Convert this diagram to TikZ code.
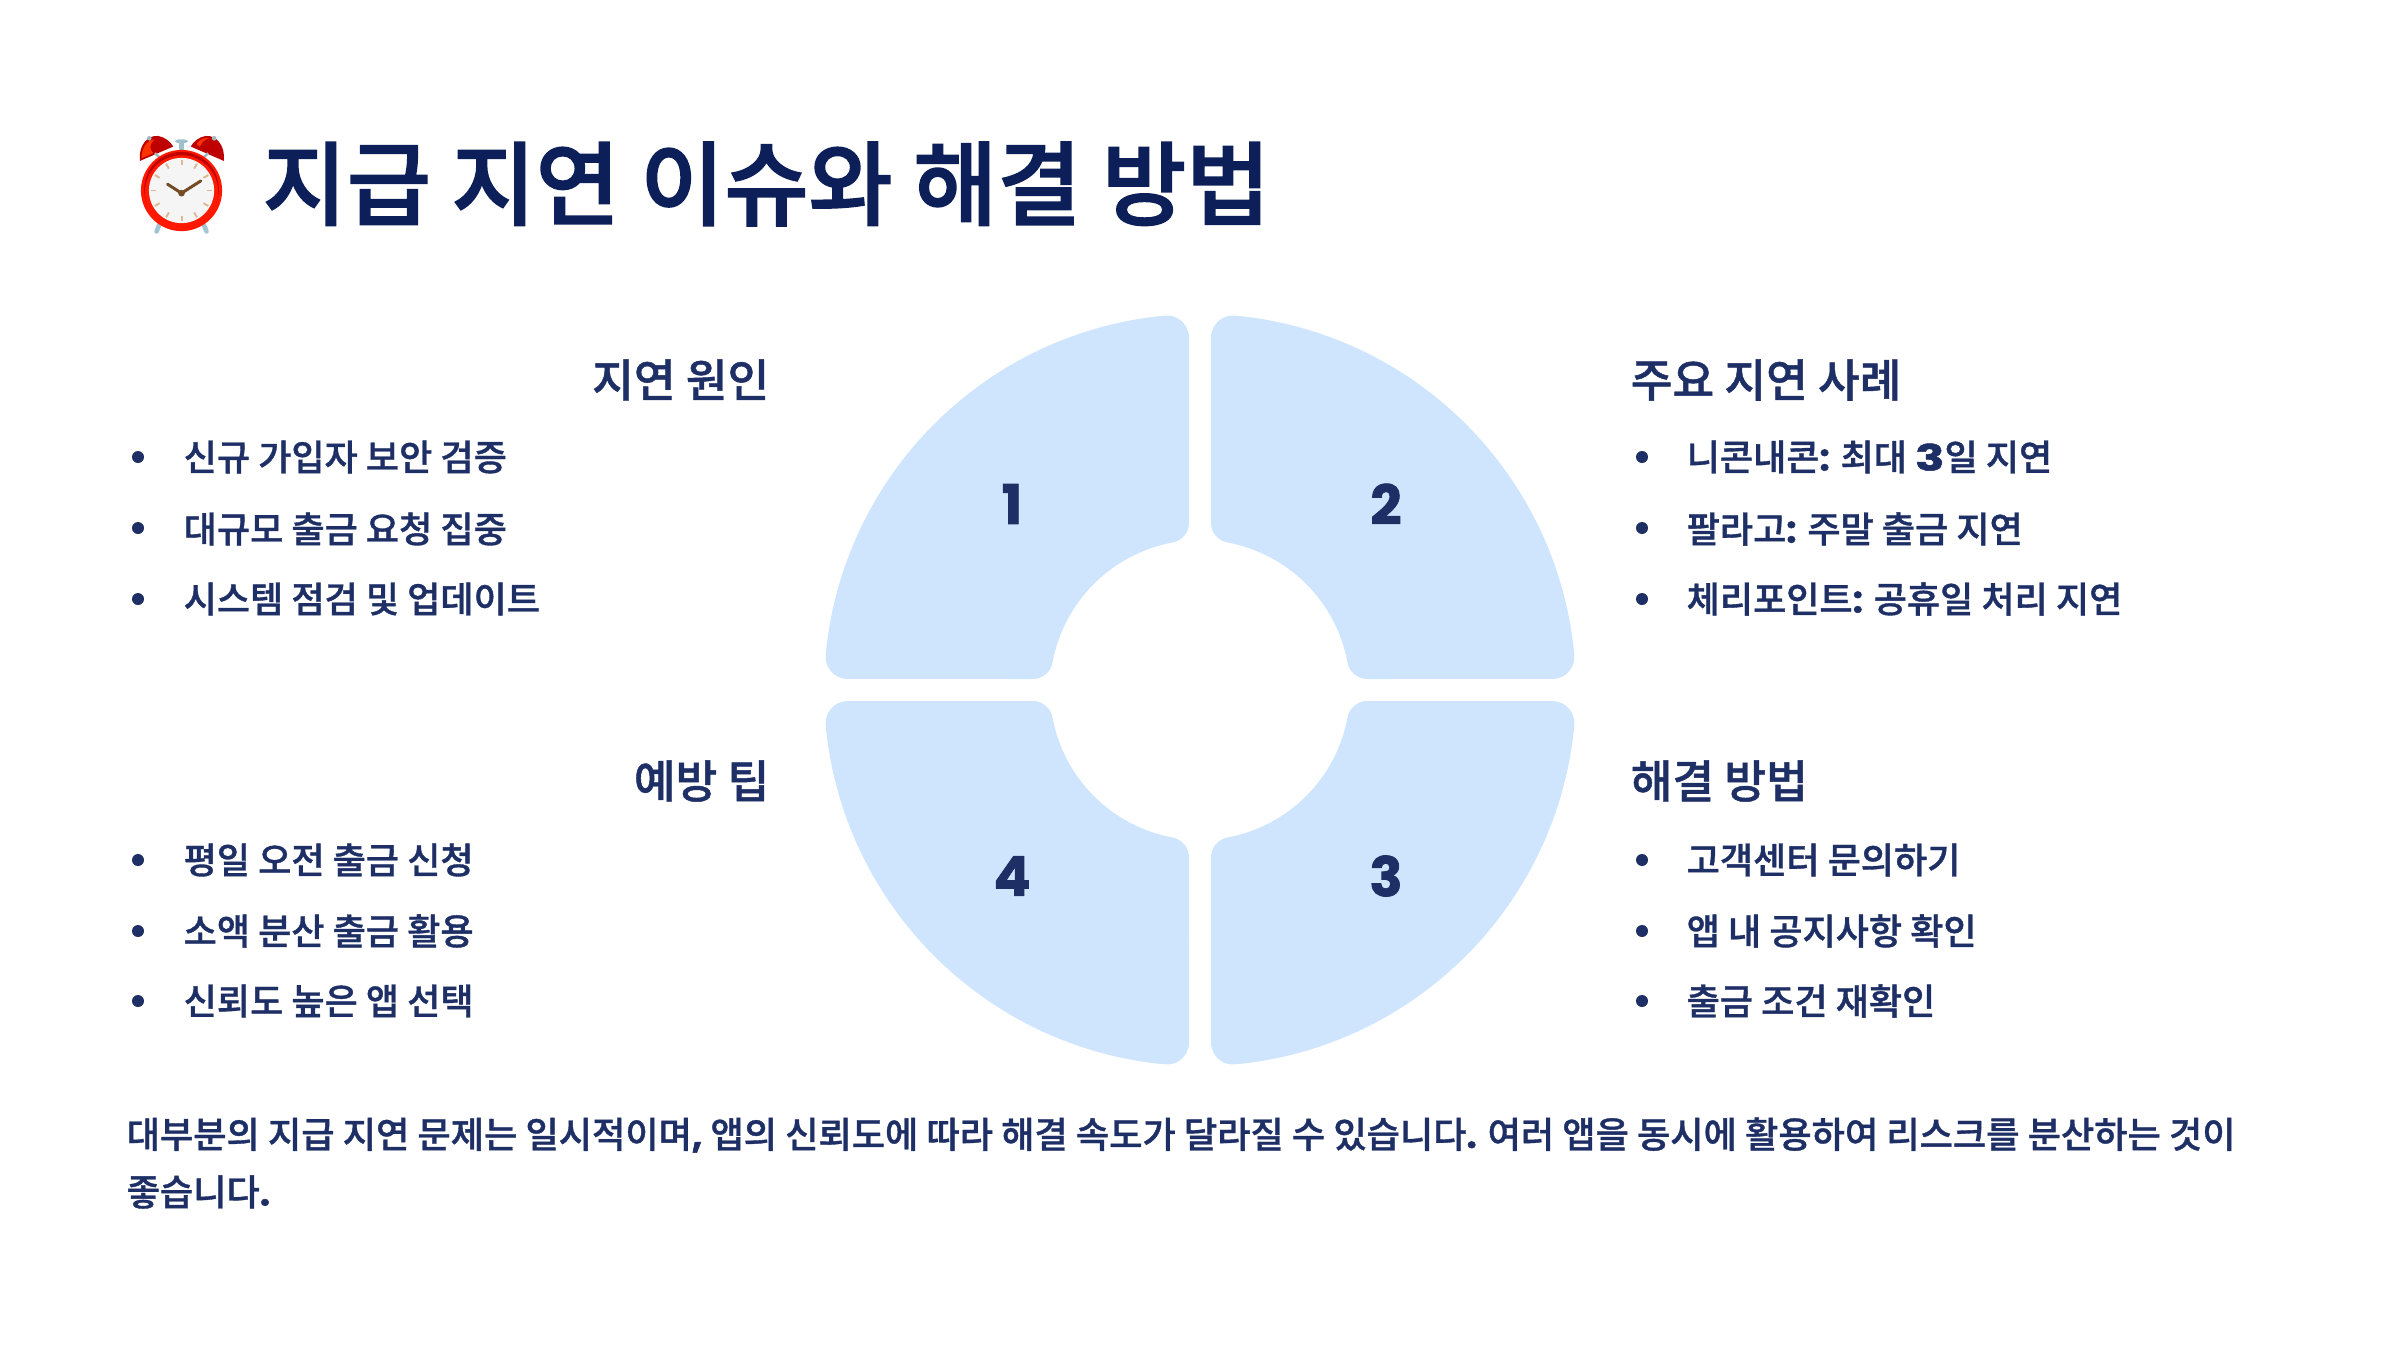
\documentclass[tikz,border=0pt]{standalone}
\usepackage{fontspec}
\setmainfont{Noto Sans CJK KR}[BoldFont=Noto Sans CJK KR Medium,BoldFeatures={FakeBold=1.0}]
\newfontfamily\titlefont{Noto Sans CJK KR}[BoldFont=Noto Sans CJK KR Medium,BoldFeatures={FakeBold=1.7}]
\newfontfamily\numfont{Poppins}[BoldFeatures={FakeBold=1.5}]
\newfontfamily\widefont{Poppins}[FakeStretch=1.35,BoldFeatures={FakeBold=1.5}]
\definecolor{titlecol}{HTML}{0C1F59}
\definecolor{bodycol}{HTML}{1E2F66}
\definecolor{wedgecol}{HTML}{CFE5FD}
\newcommand{\nb}[1]{{\numfont\bfseries #1}}
\newcommand{\wb}[1]{{\widefont\bfseries #1}}
\tikzset{
  wedge/.pic={
    \fill[wedgecol] (11,352.5) arc[start angle=180,end angle=84.65,radius=22]
      arc[start angle=84.65,end angle=5.35,radius=376]
      arc[start angle=5.35,end angle=-90,radius=22]
      -- (167.2,11) arc[start angle=270,end angle=190.5,radius=20]
      arc[start angle=10.5,end angle=79.5,radius=150]
      arc[start angle=259.5,end angle=180,radius=20] -- cycle;
  },
  titletext/.style={anchor=west,inner sep=0pt,text=titlecol,font=\fontsize{26}{30}\selectfont\titlefont\bfseries},
  headtext/.style={inner sep=0pt,text=bodycol,font=\fontsize{12.9}{15}\selectfont\bfseries},
  itemtext/.style={anchor=west,inner sep=0pt,text=bodycol,font=\fontsize{10.26}{13}\selectfont\bfseries},
  foottext/.style={anchor=west,inner sep=0pt,text=bodycol,font=\fontsize{10.29}{13}\selectfont\bfseries},
  bulletdot/.style={circle,fill=bodycol,inner sep=0pt,minimum size=0.12cm},
  numtext/.style={inner sep=0pt,text=bodycol,font=\fontsize{15.5}{18}\selectfont\numfont\bfseries},
}
\begin{document}
\begin{tikzpicture}[x=0.01cm,y=0.01cm]
\useasboundingbox (0,0) rectangle (2400,1350);
% wheel
\pic at (1200,660) {wedge};
\pic[xscale=-1] at (1200,660) {wedge};
\pic[yscale=-1] at (1200,660) {wedge};
\pic[xscale=-1,yscale=-1] at (1200,660) {wedge};
\node[numtext] (n1) at (1012,846) {1};
\node[numtext] (n2) at (1386,846) {2};
\node[numtext] (n4) at (1012,474) {4};
\node[numtext] (n3) at (1386,474) {3};
% clock
\begin{scope}[shift={(100,1250)},x=0.003333cm,y=-0.003333cm]
  \fill[red!75!black] (120,183) .. controls (115,140) and (140,105) .. (175,108) .. controls (195,112) and (212,125) .. (220,140) -- cycle;
  \fill[red!75!black] (372,183) .. controls (377,140) and (352,105) .. (317,108) .. controls (297,112) and (280,125) .. (273,140) -- cycle;
  \fill[red!60!orange] (125,175) .. controls (125,145) and (140,120) .. (165,118) .. controls (145,135) and (150,150) .. (160,160) -- cycle;
  \fill[red!60!orange] (290,132) .. controls (300,118) and (315,112) .. (328,114) .. controls (315,118) and (305,128) .. (300,140) -- cycle;
  \fill[cyan!25!gray!70!white] (148,115) circle[radius=7];
  \fill[cyan!25!gray!70!white] (343,115) circle[radius=7];
  \draw[line width=0.7pt,color=cyan!25!gray!70!white] (165,160) -- (182,175);
  \draw[line width=0.7pt,color=cyan!25!gray!70!white] (325,160) -- (308,175);
  \fill[cyan!35!gray!65!white] (238,125) rectangle (252,160);
  \fill[cyan!35!gray!65!white] (245,124) ellipse[x radius=20,y radius=6];
  \draw[line width=1.3pt,line cap=round,color=cyan!40!gray!60!white] (178,375) -- (170,395);
  \draw[line width=1.3pt,line cap=round,color=cyan!40!gray!60!white] (312,375) -- (320,395);
  \fill[red!80!orange] (245,272) circle[radius=122];
  \fill[red!75!black] (245,268) circle[radius=112];
  \fill[red!80!orange] (245,276) circle[radius=110];
  \fill[white!96!black] (245,272) circle[radius=98];
  \foreach \a in {0,30,...,330}{
    \draw[line width=0.55pt,color=brown!55!white] (245,272)++(\a:76) -- ++(\a:17);
  }
  \draw[line width=0.85pt,line cap=round,color=brown!60!black] (245,280) -- (203,253);
  \draw[line width=0.85pt,line cap=round,color=brown!60!black] (245,280) -- (303,243);
  \fill[brown!60!black] (245,280) circle[radius=10];
\end{scope}
% title
\node[titletext] (title) at (262,1166) {지급 지연 이슈와 해결 방법};
% headings
\node[headtext,anchor=east] (h1) at (770,970) {지연 원인};
\node[headtext,anchor=west] (h2) at (1630,970) {주요 지연 사례};
\node[headtext,anchor=east] (h4) at (770,569) {예방 팁};
\node[headtext,anchor=west] (h3) at (1630,569) {해결 방법};
% left top
\node[bulletdot] (b11) at (138,893) {};
\node[bulletdot] (b12) at (138,822) {};
\node[bulletdot] (b13) at (138,751) {};
\node[itemtext] (t11) at (183,893) {신규 가입자 보안 검증};
\node[itemtext] (t12) at (183,821) {대규모 출금 요청 집중};
\node[itemtext] (t13) at (183,751) {시스템 점검 및 업데이트};
% right top
\node[bulletdot] (b21) at (1642,893) {};
\node[bulletdot] (b22) at (1642,822) {};
\node[bulletdot] (b23) at (1642,751) {};
\node[itemtext] (t21) at (1686,893) {니콘내콘\nb{:} 최대 \wb{3}일 지연};
\node[itemtext] (t22) at (1686,821) {팔라고\nb{:} 주말 출금 지연};
\node[itemtext] (t23) at (1686,751) {체리포인트\nb{:} 공휴일 처리 지연};
% left bottom
\node[bulletdot] (b41) at (138,490) {};
\node[bulletdot] (b42) at (138,419) {};
\node[bulletdot] (b43) at (138,349) {};
\node[itemtext] (t41) at (183,490) {평일 오전 출금 신청};
\node[itemtext] (t42) at (183,419) {소액 분산 출금 활용};
\node[itemtext] (t43) at (183,349) {신뢰도 높은 앱 선택};
% right bottom
\node[bulletdot] (b31) at (1642,490) {};
\node[bulletdot] (b32) at (1642,419) {};
\node[bulletdot] (b33) at (1642,349) {};
\node[itemtext] (t31) at (1686,490) {고객센터 문의하기};
\node[itemtext] (t32) at (1686,419) {앱 내 공지사항 확인};
\node[itemtext] (t33) at (1686,349) {출금 조건 재확인};
% footer
\node[foottext] (f1) at (126,215) {대부분의 지급 지연 문제는 일시적이며\nb{,} 앱의 신뢰도에 따라 해결 속도가 달라질 수 있습니다\nb{.} 여러 앱을 동시에 활용하여 리스크를 분산하는 것이};
\node[foottext] (f2) at (126,158) {좋습니다\nb{.}};
\end{tikzpicture}
\end{document}
